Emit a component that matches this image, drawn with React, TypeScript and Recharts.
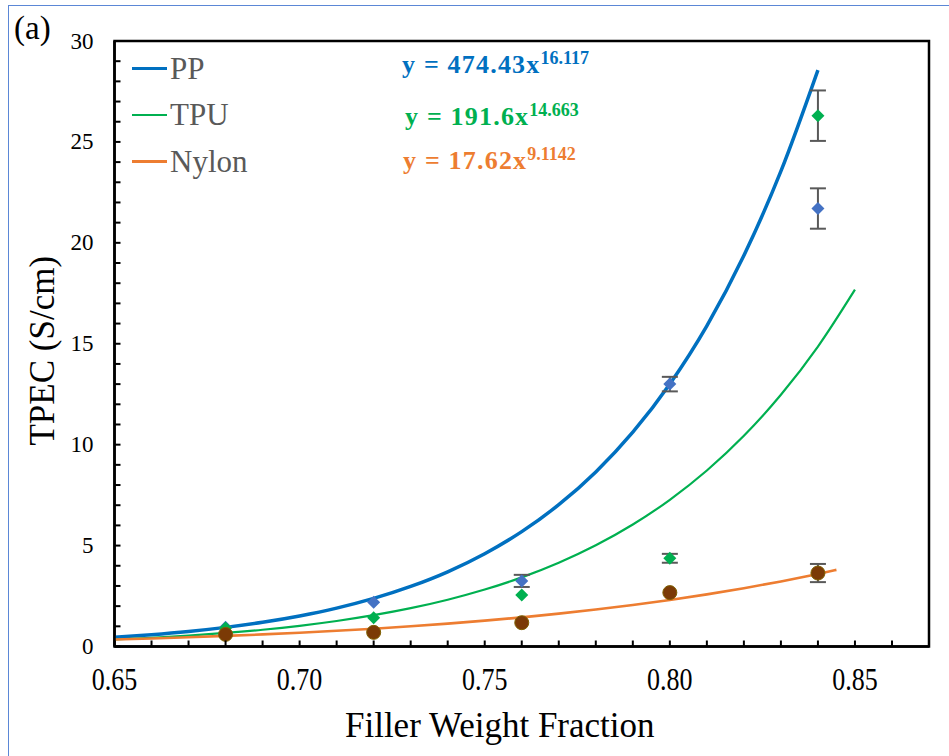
import React from 'react';
import { ComposedChart, Line, Scatter, XAxis, YAxis, ErrorBar, ReferenceArea, Legend } from 'recharts';

// power-law trend lines
const ppFitX = [0.65, 0.66, 0.67, 0.68, 0.69, 0.7, 0.71, 0.72, 0.73, 0.74, 0.75, 0.76, 0.77, 0.78, 0.79, 0.8, 0.81, 0.82, 0.83, 0.84];
const ppFitY = [0.458, 0.586, 0.746, 0.948, 1.199, 1.512, 1.9, 2.381, 2.974, 3.7, 4.597, 5.69, 7.026, 8.65, 10.62, 13.01, 15.89, 19.37, 23.55, 28.56];
const tpuFitX = [0.65, 0.66, 0.67, 0.68, 0.69, 0.7, 0.71, 0.72, 0.73, 0.74, 0.75, 0.76, 0.77, 0.78, 0.79, 0.8, 0.81, 0.82, 0.83, 0.84, 0.85];
const tpuFitY = [0.346, 0.433, 0.54, 0.671, 0.831, 1.026, 1.263, 1.551, 1.898, 2.317, 2.821, 3.426, 4.15, 5.014, 6.044, 7.268, 8.72, 10.44, 12.47, 14.86, 17.68];
const nylonFitX = [0.65, 0.66, 0.67, 0.68, 0.69, 0.7, 0.71, 0.72, 0.73, 0.74, 0.75, 0.76, 0.77, 0.78, 0.79, 0.8, 0.81, 0.82, 0.83, 0.84, 0.845];
const nylonFitY = [0.347, 0.399, 0.458, 0.524, 0.599, 0.683, 0.777, 0.882, 1.001, 1.133, 1.28, 1.444, 1.627, 1.83, 2.056, 2.306, 2.582, 2.887, 3.225, 3.597, 3.796];

// measured points (error 0 = bar hidden behind the marker)
const fraction = [0.68, 0.72, 0.76, 0.8, 0.84];
const ppVal = [0.95, 2.19, 3.25, 13.0, 21.7];
const ppErr = [0, 0, 0.3, 0.36, 1.0];
const tpuVal = [0.92, 1.43, 2.55, 4.37, 26.3];
const tpuErr = [0, 0, 0, 0.22, 1.25];
const nylonVal = [0.6, 0.7, 1.18, 2.67, 3.64];
const nylonErr = [0, 0, 0, 0, 0.45];

const xTicks = [0.65, 0.66, 0.67, 0.68, 0.69, 0.7, 0.71, 0.72, 0.73, 0.74, 0.75, 0.76, 0.77, 0.78, 0.79, 0.8, 0.81, 0.82, 0.83, 0.84, 0.85, 0.86, 0.87];
const yTicks = [0, 1, 2, 3, 4, 5, 6, 7, 8, 9, 10, 11, 12, 13, 14, 15, 16, 17, 18, 19, 20, 21, 22, 23, 24, 25, 26, 27, 28, 29, 30];

const legendItems = [
  { name: 'PP', color: '#0070C0' },
  { name: 'TPU', color: '#00B050' },
  { name: 'Nylon', color: '#ED7D31' },
];

const pairs = (xs: number[], ys: number[]) => xs.map((x, i) => ({ x, y: ys[i] }));
const points = (ys: number[], errs: number[]) => fraction.map((x, i) => ({ x, y: ys[i], err: errs[i] }));

const ppFit = pairs(ppFitX, ppFitY);
const tpuFit = pairs(tpuFitX, tpuFitY);
const nylonFit = pairs(nylonFitX, nylonFitY);
const ppPts = points(ppVal, ppErr);
const tpuPts = points(tpuVal, tpuErr);
const nylonPts = points(nylonVal, nylonErr);

const SERIF = { fontFamily: 'Liberation Serif' };

const XTick = (props: any) => {
  const { x, y, payload } = props;
  const v = payload.value;
  const major = Math.round(v * 100) % 5 === 0;
  const by = y + 43;
  return (
    <g>
      <line x1={x} x2={x} y1={y} y2={y - 6} stroke="#000" strokeWidth={2} />
      {major && (
        <text x={0} y={0} transform={`translate(${x} ${by}) scale(1 1.22)`} textAnchor="middle" fontSize={26} style={SERIF} fill="#000">
          {v.toFixed(2)}
        </text>
      )}
    </g>
  );
};

const YTick = (props: any) => {
  const { x, y, payload } = props;
  const v = payload.value;
  return (
    <g>
      <line x1={x} x2={x + 6} y1={y} y2={y} stroke="#000" strokeWidth={2} />
      {v % 5 === 0 && (
        <text x={x - 21} y={y + 7.5} textAnchor="end" fontSize={23} style={SERIF} fill="#000">
          {v}
        </text>
      )}
    </g>
  );
};

const diamond = (color: string) => (props: any) => {
  const { cx, cy } = props;
  return <path d={`M${cx},${cy - 6.5}L${cx + 6.5},${cy}L${cx},${cy + 6.5}L${cx - 6.5},${cy}Z`} fill={color} />;
};

const circle = (props: any) => {
  const { cx, cy } = props;
  return <circle cx={cx} cy={cy} r={7} fill="#7B3A06" stroke="#7F6000" strokeWidth={1} />;
};

const LegendBox = () => (
  <div style={SERIF}>
    {legendItems.map((it) => (
      <div key={it.name} style={{ display: 'flex', alignItems: 'center', height: 46.5 }}>
        <div style={{ width: 35, height: it.name === 'PP' ? 3.5 : 2.5, background: it.color, marginRight: 3 }} />
        <span style={{ fontSize: 31, color: '#595959', lineHeight: '31px' }}>{it.name}</span>
      </div>
    ))}
  </div>
);

export default function App() {
  return (
    <div style={{ position: 'fixed', left: 0, top: 0, width: 949, height: 756, overflow: 'hidden', background: '#fff', ...SERIF }}>
      <div style={{ position: 'absolute', left: 8, top: 5, width: 980, height: 800, border: '1.5px solid #5B87D6' }} />
      <div style={{ position: 'absolute', left: 0, top: 0 }}>
        <ComposedChart width={949} height={756} margin={{ top: 41, right: 20, bottom: 49.5, left: 54.5 }}>
          <XAxis
            dataKey="x"
            type="number"
            domain={[0.65, 0.87]}
            ticks={xTicks}
            interval={0}
            tickSize={0}
            tickMargin={0}
            tick={<XTick />}
            height={60}
            axisLine={{ stroke: '#000', strokeWidth: 2.5 }}
            allowDataOverflow
            label={{
              value: 'Filler Weight Fraction',
              content: (p: any) => (
                <text x={p.viewBox.x + p.viewBox.width / 2 - 22} y={p.viewBox.y + p.viewBox.height + 30} textAnchor="middle" fontSize={35} style={SERIF} fill="#000">
                  Filler Weight Fraction
                </text>
              ),
            }}
          />
          <YAxis
            dataKey="y"
            type="number"
            domain={[0, 30]}
            ticks={yTicks}
            interval={0}
            tickSize={0}
            tickMargin={0}
            tick={<YTick />}
            width={60}
            axisLine={{ stroke: '#000', strokeWidth: 2.5 }}
            allowDataOverflow
            label={{
              value: 'TPEC (S/cm)',
              content: (p: any) => {
                const cx = 42;
                const cy = p.viewBox.y + p.viewBox.height / 2 + 7;
                return (
                  <text x={cx} y={cy} transform={`rotate(-90 ${cx} ${cy})`} textAnchor="middle" dominantBaseline="central" fontSize={35} style={SERIF} fill="#000">
                    TPEC (S/cm)
                  </text>
                );
              },
            }}
          />
          <ReferenceArea x1={0.65} x2={0.87} y1={0} y2={30} fill="none" stroke="#000" strokeWidth={2.5} ifOverflow="visible" />
          <Legend
            layout="vertical"
            align="center"
            verticalAlign="middle"
            content={<LegendBox />}
            wrapperStyle={{ left: 132, top: 45, width: 160 }}
          />
          <Line data={ppFit} dataKey="y" name="PP" type="monotone" stroke="#0070C0" strokeWidth={3.5} dot={false} activeDot={false} isAnimationActive={false} />
          <Line data={tpuFit} dataKey="y" name="TPU" type="monotone" stroke="#00B050" strokeWidth={2.2} dot={false} activeDot={false} isAnimationActive={false} />
          <Line data={nylonFit} dataKey="y" name="Nylon" type="monotone" stroke="#ED7D31" strokeWidth={2.6} dot={false} activeDot={false} isAnimationActive={false} />
          <Scatter data={ppPts} dataKey="y" shape={diamond('#4472C4')} legendType="none" isAnimationActive={false}>
            <ErrorBar dataKey="err" direction="y" width={8} stroke="#595959" strokeWidth={2} />
          </Scatter>
          <Scatter data={tpuPts} dataKey="y" shape={diamond('#00B050')} legendType="none" isAnimationActive={false}>
            <ErrorBar dataKey="err" direction="y" width={8} stroke="#595959" strokeWidth={2} />
          </Scatter>
          <Scatter data={nylonPts} dataKey="y" shape={circle} legendType="none" isAnimationActive={false}>
            <ErrorBar dataKey="err" direction="y" width={8} stroke="#595959" strokeWidth={2} />
          </Scatter>
        </ComposedChart>
      </div>
      <svg width={949} height={756} style={{ position: 'absolute', left: 0, top: 0, pointerEvents: 'none', ...SERIF }}>
        <text x={14} y={39} fontSize={33} fill="#000" style={SERIF}>(a)</text>
        <text x={402} y={73} fontSize={26} fontWeight="bold" fill="#0070C0" letterSpacing={1.2} style={SERIF}>
          y = 474.43x<tspan dy={-9} fontSize={18} letterSpacing={0}>16.117</tspan>
        </text>
        <text x={405} y={125} fontSize={26} fontWeight="bold" fill="#00B050" letterSpacing={1.2} style={SERIF}>
          y = 191.6x<tspan dy={-9} fontSize={18} letterSpacing={0}>14.663</tspan>
        </text>
        <text x={403} y={169} fontSize={26} fontWeight="bold" fill="#ED7D31" letterSpacing={1.2} style={SERIF}>
          y = 17.62x<tspan dy={-9} fontSize={18} letterSpacing={0}>9.1142</tspan>
        </text>
      </svg>
    </div>
  );
}
